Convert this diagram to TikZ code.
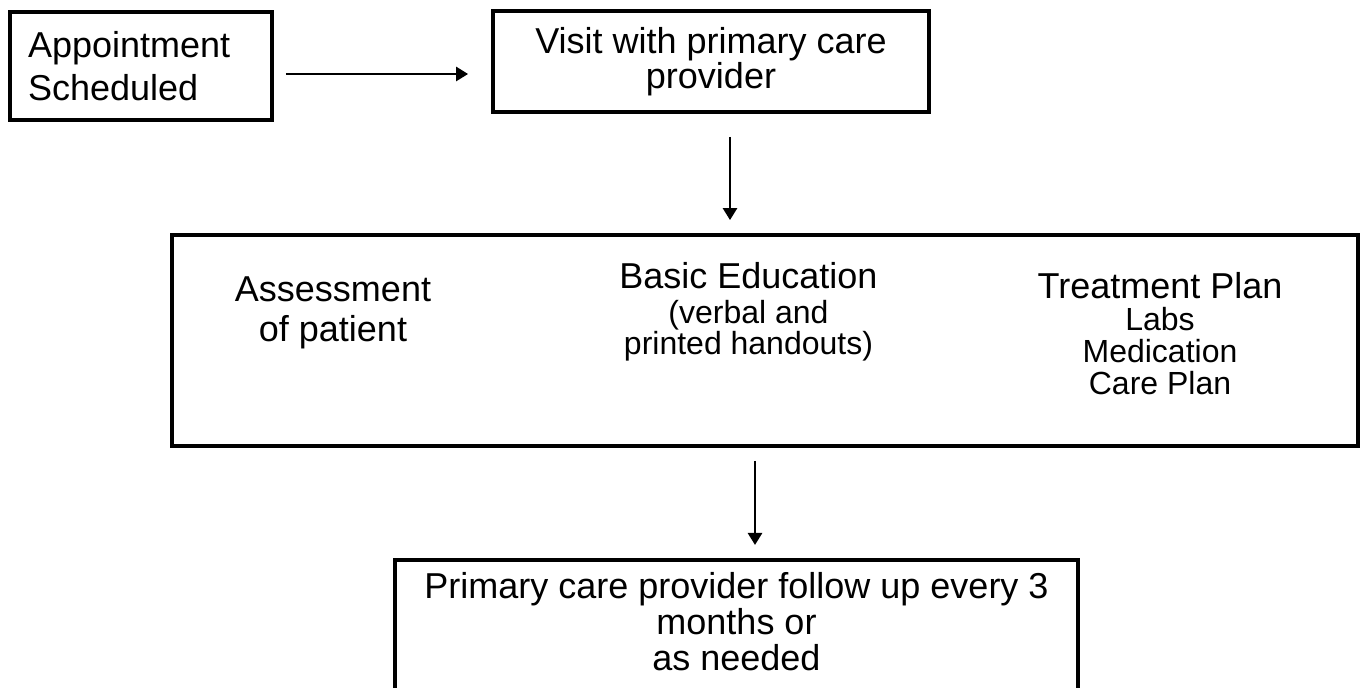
\documentclass[tikz,border=0pt]{standalone}
\usepackage{fontspec}
\setmainfont{Liberation Sans}
\usetikzlibrary{arrows.meta}

\newcommand{\smalltext}{\fontsize{16}{16}\selectfont}

\begin{document}
\begin{tikzpicture}[x=0.5pt,y=-0.5pt]
        \tikzstyle{every node}=[inner sep=0pt]
        \tikzstyle{box}=[draw, line width=1.9pt]
        \tikzstyle{arr}=[-{Triangle[length=6pt,width=7pt]}, line width=1.3pt]

        \useasboundingbox (0,0) rectangle (1361,688);

        \node   (appt)   [box, minimum height=54pt, text width=113pt, inner xsep=9pt, align=left,
                          font=\fontsize{18}{21.5}\selectfont] at (141,66) {Appointment\\Scheduled};
        \node   (visit)  [box, minimum width=218pt, minimum height=50.5pt, align=center,
                          font=\fontsize{18}{15}\selectfont] at (711,61.5) {Visit with primary care\\provider};

        \node   (care)   [box, minimum width=593pt, minimum height=105.5pt] at (765,340.5) {};
        \node   (assess) [align=center, font=\fontsize{18}{20}\selectfont] at (333,313) {Assessment\\of patient};
        \node   (educ)   [align=center, font=\fontsize{18}{15.5}\selectfont] at (748.5,311.5)
                         {Basic Education\\[2pt]\smalltext (verbal and\\\smalltext printed handouts)};
        \node   (plan)   [align=center, font=\fontsize{18}{16}\selectfont] at (1160,333.5)
                         {Treatment Plan\\\smalltext Labs\\\smalltext Medication\\\smalltext Care Plan};

        \node   (follow) [box, anchor=north, font=\fontsize{18}{18}\selectfont] at (736.5,558)
                         {\parbox[c][80pt][t]{341.5pt}{\centering\vspace*{6.5pt}Primary care provider follow up every 3\\months or\\as needed}};

        \draw[arr]  ([xshift=6pt,yshift=-4pt]appt.east) -- ([xshift=-11.5pt,yshift=-6.25pt]visit.west);
        \draw[arr]  ([xshift=9.5pt,yshift=-11.5pt]visit.south) -- ([xshift=-17.5pt,yshift=6.5pt]care.north);
        \draw[arr]  ([xshift=-5pt,yshift=-6.5pt]care.south) -- ([xshift=9.25pt,yshift=6.5pt]follow.north);

    \end{tikzpicture}
\end{document}
